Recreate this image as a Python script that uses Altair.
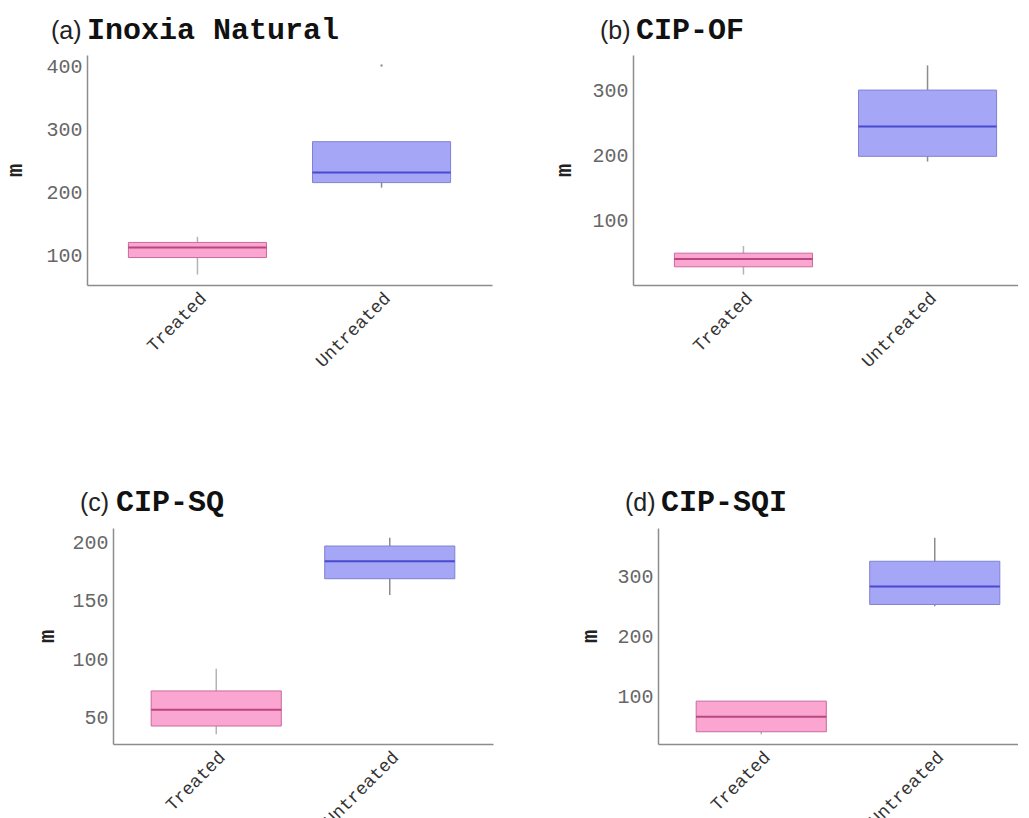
import altair as alt
import pandas as pd

groups = ["Treated", "Untreated"]

# (a) Inoxia Natural
a_lower = [70, 208]
a_q1 = [97, 216]
a_median = [113, 232]
a_q3 = [121, 281]
a_upper = [130, 281]
a_out_group = ["Untreated"]
a_out_value = [402]

# (b) CIP-OF
b_lower = [16, 190]
b_q1 = [28, 198]
b_median = [40, 244]
b_q3 = [49, 300]
b_upper = [60, 338]

# (c) CIP-SQ
c_lower = [36, 155]
c_q1 = [43, 169]
c_median = [57, 184]
c_q3 = [73, 197]
c_upper = [92, 204]

# (d) CIP-SQI
d_lower = [37, 250]
d_q1 = [41, 253]
d_median = [66, 283]
d_q3 = [92, 325]
d_upper = [92, 364]

fill_colors = ["#fba6d0", "#a5a6f5"]
stroke_colors = ["#c86aa0", "#8082d4"]
median_colors = ["#a01c60", "#2424c0"]
whisker_colors = ["#b4b4b4", "#8c8c8c"]

MONO = "Liberation Mono"
SANS = "Liberation Sans"
AXIS_COL = "#8c8c8c"


def panel(letter, name, lower, q1, med, q3, upper, out_g, out_v,
          ydom, yticks, width, height, po, box_w,
          title_dx, title_offset, ytitle, ytitle_lh, ytitle_pad):
    df = pd.DataFrame({"group": groups, "lower": lower, "q1": q1,
                       "median": med, "q3": q3, "upper": upper})
    xs = alt.Scale(domain=groups, paddingInner=0.25, paddingOuter=po)
    xa = alt.Axis(labelAngle=-45, labelAlign="right", labelBaseline="top",
                  labelFont=MONO, labelFontSize=18, labelColor="#333333",
                  labelPadding=4, ticks=False, domainColor=AXIS_COL,
                  domainWidth=1.5, grid=False, title=None)
    ys = alt.Scale(domain=ydom, nice=False, zero=False)
    ya = alt.Axis(values=yticks, labelFont=MONO, labelFontSize=20,
                  labelColor="#666666", labelPadding=5, ticks=False,
                  domainColor=AXIS_COL, domainWidth=1.5, grid=False,
                  title=ytitle, titleFont=MONO, titleFontSize=22,
                  titleFontWeight="bold", titleColor="#222222",
                  titlePadding=ytitle_pad, titleLineHeight=ytitle_lh)
    X = alt.X("group:N", scale=xs, axis=xa)
    base = alt.Chart(df)
    whisk = base.mark_rule(strokeWidth=1.5).encode(
        x=X,
        y=alt.Y("lower:Q", scale=ys, axis=ya),
        y2="upper:Q",
        color=alt.Color("group:N", scale=alt.Scale(domain=groups, range=whisker_colors), legend=None),
    )
    box = base.mark_bar(strokeWidth=1).encode(
        x=X,
        y=alt.Y("q1:Q", scale=ys, axis=ya),
        y2="q3:Q",
        fill=alt.Fill("group:N", scale=alt.Scale(domain=groups, range=fill_colors), legend=None),
        stroke=alt.Stroke("group:N", scale=alt.Scale(domain=groups, range=stroke_colors), legend=None),
    )
    mid = base.mark_tick(thickness=2, size=box_w).encode(
        x=X,
        y=alt.Y("median:Q", scale=ys, axis=ya),
        color=alt.Color("group:N", scale=alt.Scale(domain=groups, range=median_colors), legend=None),
    )
    layers = [whisk, box, mid]
    if out_g:
        odf = pd.DataFrame({"group": out_g, "value": out_v})
        pts = alt.Chart(odf).mark_circle(size=6, color="#999999", opacity=1).encode(
            x=X, y=alt.Y("value:Q", scale=ys, axis=ya))
        layers.append(pts)
    ch = alt.layer(*layers).resolve_scale(color="independent").properties(
        width=width, height=height,
        title=alt.TitleParams(
            text=letter, subtitle="\u200b\u00a0\u00a0" + name,
            anchor="start", frame="group", dx=title_dx, offset=title_offset,
            font=SANS, fontSize=25, fontWeight="normal", color="#222222",
            subtitleFont=MONO, subtitleFontSize=30, subtitleFontWeight="bold",
            subtitleColor="#111111", subtitlePadding=-29,
        ),
    )
    return ch


def spacer():
    return alt.Chart(pd.DataFrame({"group": groups})).mark_point(
        opacity=0, size=1).properties(width=1, height=1)


pa = panel("(a)", "Inoxia Natural", a_lower, a_q1, a_median, a_q3, a_upper,
           a_out_group, a_out_value, [53.4, 418.6], [100, 200, 300, 400],
           405, 230, 0.225, 138, -36, 6, "m", 22, 19)
pb = panel("(b)", "CIP-OF", b_lower, b_q1, b_median, b_q3, b_upper,
           [], [], [0, 354], [100, 200, 300],
           405, 230, 0.225, 138, -33, 6, "m", 22, 16)
pc = panel("(c)", "CIP-SQ", c_lower, c_q1, c_median, c_q3, c_upper,
           [], [], [27.6, 212.4], [50, 100, 150, 200],
           380, 216, 0.22, 130, -33, 7, ["\u00a0", "m"], 32, 13)
pd_ = panel("(d)", "CIP-SQI", d_lower, d_q1, d_median, d_q3, d_upper,
            [], [], [20.6, 380.4], [100, 200, 300],
            380, 216, 0.22, 130, -33, 7, "m", 22, 15)

chart = alt.concat(spacer(), pa, pb, spacer(), pc, pd_, columns=3, align="none",
                   spacing={"row": 116, "column": 60}).properties(
    padding={"left": -58, "top": 15, "right": -20, "bottom": -7},
    background="white",
).configure_view(stroke=None)

chart.save("out.html", embed_options={"renderer": "svg", "actions": False})
